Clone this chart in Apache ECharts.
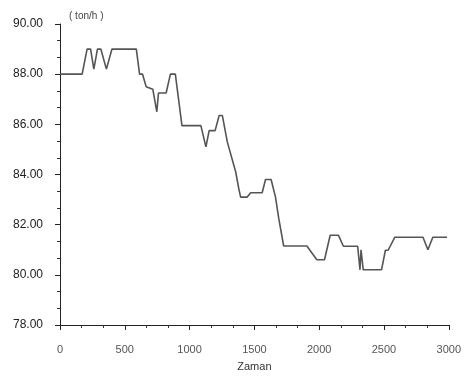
<!DOCTYPE html>
<html>
<head>
<meta charset="utf-8">
<script src="https://cdn.jsdelivr.net/npm/echarts@6/dist/echarts.min.js"></script>
<style>
  html, body { margin: 0; padding: 0; background: #fff; }
  #chart { width: 464px; height: 377px; }
</style>
</head>
<body>
<div id="chart"></div>
<script>
// time (Zaman) and flow (ton/h)
let zaman = [0, 171, 209, 236, 261, 289, 315, 358, 401, 589, 614, 637, 665, 716, 747, 760, 819, 852, 890,
  941, 1087, 1126, 1151, 1197, 1228, 1253, 1291, 1356, 1381, 1394, 1445, 1471, 1560, 1586, 1629, 1663,
  1688, 1726, 1905, 1982, 2041, 2085, 2148, 2187, 2297, 2315, 2323, 2340, 2481, 2511, 2532, 2584, 2801,
  2839, 2877, 2987];
let debi = [88.0, 88.0, 89.0, 89.0, 88.2, 89.0, 89.0, 88.2, 89.0, 89.0, 88.0, 88.0, 87.5, 87.4, 86.5, 87.25,
  87.25, 88.0, 88.0, 85.95, 85.95, 85.1, 85.75, 85.75, 86.35, 86.35, 85.3, 84.1, 83.4, 83.1, 83.1, 83.27,
  83.27, 83.8, 83.8, 83.1, 82.25, 81.15, 81.15, 80.6, 80.6, 81.58, 81.58, 81.14, 81.14, 80.2, 81.0, 80.2,
  80.2, 80.98, 80.98, 81.5, 81.5, 81.0, 81.5, 81.5];

let yMin = 78, yMax = 90, yStep = 2;
let xMin = 0, xMax = 3000, xStep = 500;

let data = zaman.map((t, i) => [t, debi[i]]);

const myChart = echarts.init(document.getElementById("chart"), null, { width: 464, height: 377 });

let option = {
  backgroundColor: "#fff",
  animation: false,
  title: {
    text: "( ton/h )",
    left: 64, top: 6,
    textStyle: { fontSize: 10, fontWeight: "normal", color: "#444", fontFamily: "Liberation Sans" },
  },
  grid: { left: 60, right: 13, top: 24, bottom: 52 },
  xAxis: {
    type: "value",
    min: xMin, max: xMax, interval: xStep,
    name: "Zaman",
    nameLocation: "middle",
    nameGap: 36,
    nameTextStyle: { fontSize: 11, color: "#333", fontFamily: "Liberation Sans" },
    axisLine: { lineStyle: { color: "#222", width: 1 } },
    axisTick: { show: true, length: 5, lineStyle: { color: "#222" } },
    minorTick: { show: true, splitNumber: 3, length: 3, lineStyle: { color: "#333" } },
    axisLabel: {
      fontSize: 11, color: "#555", margin: 19, fontFamily: "Liberation Sans",
      formatter: (v) => String(v),
    },
    splitLine: { show: false },
  },
  yAxis: {
    type: "value",
    min: yMin, max: yMax, interval: yStep,
    axisLine: { show: true, lineStyle: { color: "#222", width: 1 } },
    axisTick: { show: true, length: 5, lineStyle: { color: "#222" } },
    minorTick: { show: true, splitNumber: 3, length: 3, lineStyle: { color: "#333" } },
    axisLabel: {
      fontSize: 12, color: "#222", margin: 17, fontFamily: "Liberation Sans",
      formatter: (v) => v.toFixed(2),
    },
    splitLine: { show: false },
  },
  series: [{
    type: "line",
    data: data,
    symbol: "none",
    lineStyle: { color: "#555", width: 1.6 },
  }],
};

myChart.setOption(option);
</script>
</body>
</html>
